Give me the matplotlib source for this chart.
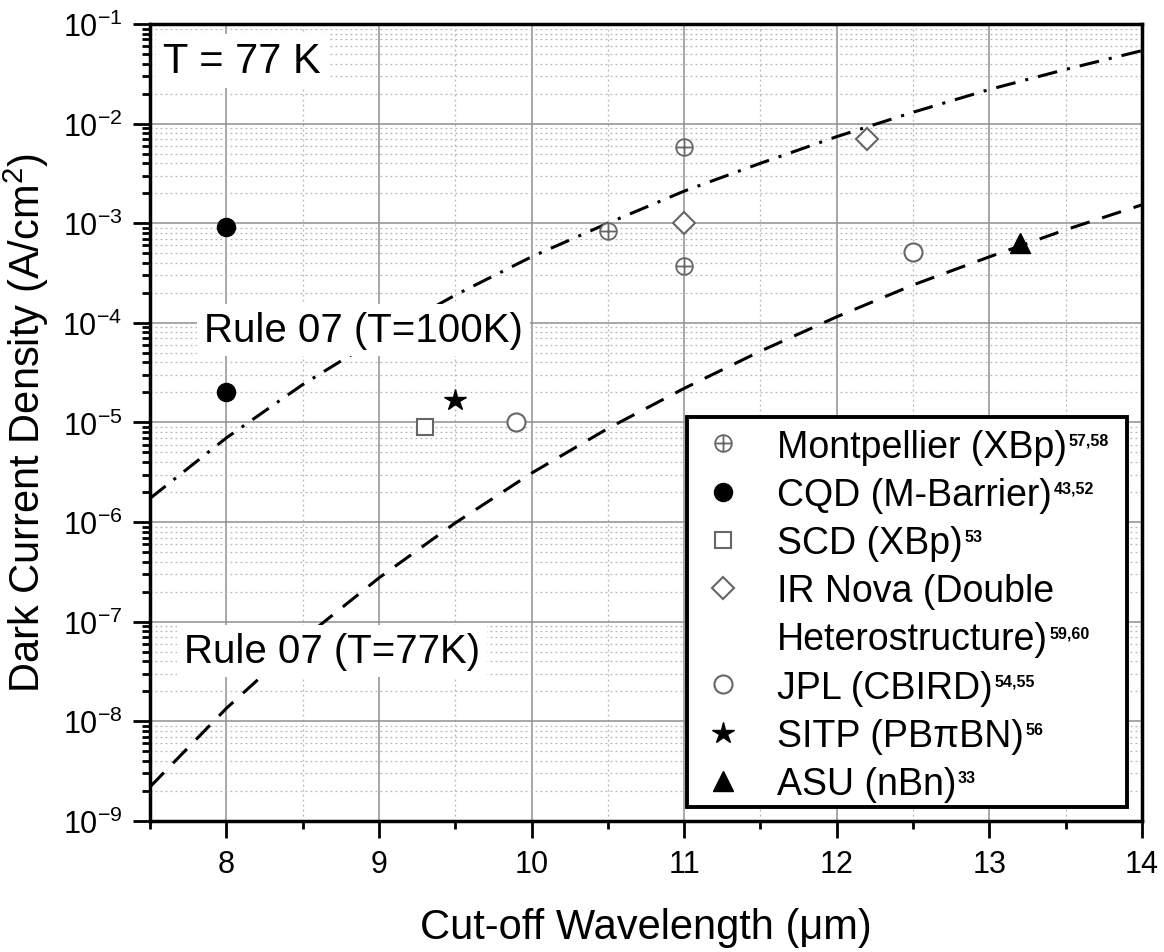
import matplotlib
matplotlib.use('Agg')
import matplotlib.pyplot as plt
from matplotlib.lines import Line2D
from matplotlib.patches import Rectangle
from matplotlib.path import Path
from matplotlib.ticker import LogLocator, NullFormatter, MultipleLocator

plt.rcParams['font.family'] = ['Liberation Sans', 'DejaVu Sans']
plt.rcParams['mathtext.fontset'] = 'custom'
plt.rcParams['mathtext.rm'] = 'Liberation Sans'
plt.rcParams['mathtext.it'] = 'Liberation Sans:italic'
plt.rcParams['mathtext.bf'] = 'Liberation Sans:bold'
plt.rcParams['axes.unicode_minus'] = False

# Rule 07 curves, every 0.5 um
wl_rule = [7.5, 8.0, 8.5, 9.0, 9.5, 10.0, 10.5, 11.0, 11.5, 12.0, 12.5, 13.0, 13.5, 14.0]
j_rule_100k = [1.73e-6, 7.0e-6, 2.4e-5, 7.1e-5, 1.9e-4, 4.6e-4, 1.0e-3, 2.1e-3,
               4.0e-3, 7.4e-3, 1.3e-2, 2.2e-2, 3.5e-2, 5.4e-2]
j_rule_77k = [2.2e-9, 1.35e-8, 6.7e-8, 2.75e-7, 9.8e-7, 3.1e-6, 8.7e-6, 2.2e-5,
              5.2e-5, 1.15e-4, 2.4e-4, 4.6e-4, 8.6e-4, 1.53e-3]

# measured devices
wl_montpellier = [10.5, 11.0, 11.0]
j_montpellier = [8.4e-4, 5.8e-3, 3.7e-4]
wl_cqd = [8.0, 8.0]
j_cqd = [9.2e-4, 2.0e-5]
wl_scd = [9.3]
j_scd = [9.0e-6]
wl_irnova = [11.0, 12.2]
j_irnova = [1.0e-3, 7.0e-3]
wl_jpl = [9.9, 12.5]
j_jpl = [1.0e-5, 5.1e-4]
wl_sitp = [9.5]
j_sitp = [1.7e-5]
wl_asu = [13.2]
j_asu = [6.3e-4]

labels = ['Montpellier (XBp)', 'CQD (M-Barrier)', 'SCD (XBp)', 'IR Nova (Double',
          'Heterostructure)', 'JPL (CBIRD)', 'SITP (PB\u03c0BN)', 'ASU (nBn)']
refs = ['57,58', '43,52', '53', '', '59,60', '54,55', '56', '33']

# circle with a cross for the Montpellier points
circle_plus = Path.make_compound_path(
    Path.unit_circle(),
    Path([[-1, 0], [1, 0]], [Path.MOVETO, Path.LINETO]),
    Path([[0, -1], [0, 1]], [Path.MOVETO, Path.LINETO]))

gray = '#666666'

fig = plt.figure(figsize=(11.64, 9.53), dpi=100)
ax = fig.add_axes([0.1289, 0.1375, 0.8522, 0.8363])

ax.plot(wl_rule, j_rule_100k, color='black', lw=2.2, ls=(0, (6.5, 3.3, 1, 3.3)), zorder=2)
ax.plot(wl_rule, j_rule_77k, color='black', lw=2.2, ls=(0, (6.5, 4.3)), zorder=2)

mk = dict(ls='none', zorder=4)
h1, = ax.plot(wl_montpellier, j_montpellier, marker=circle_plus, ms=12, mfc='white', mec=gray, mew=1.3, **mk)
h2, = ax.plot(wl_cqd, j_cqd, marker='o', ms=13, mfc='black', mec='black', **mk)
h3, = ax.plot(wl_scd, j_scd, marker='s', ms=12, mfc='white', mec=gray, mew=1.5, **mk)
h4, = ax.plot(wl_irnova, j_irnova, marker='D', ms=11, mfc='white', mec=gray, mew=1.5, **mk)
h5, = ax.plot(wl_jpl, j_jpl, marker='o', ms=13, mfc='white', mec=gray, mew=1.5, **mk)
h6, = ax.plot(wl_sitp, j_sitp, marker='*', ms=16, mfc='black', mec='black', **mk)
h7, = ax.plot(wl_asu, j_asu, marker='^', ms=14, mfc='black', mec='black', **mk)
blank = Line2D([], [], ls='none', marker=None)

ax.set_yscale('log')
ax.set_xlim(7.5, 14)
ax.set_ylim(1e-9, 1e-1)
ax.xaxis.set_major_locator(MultipleLocator(1))
ax.xaxis.set_minor_locator(MultipleLocator(0.5))
ax.yaxis.set_major_locator(LogLocator(base=10, numticks=20))
ax.yaxis.set_minor_locator(LogLocator(base=10, subs=range(2, 10), numticks=20))
ax.yaxis.set_minor_formatter(NullFormatter())

ax.set_axisbelow(True)
ax.grid(which='major', color='#8f8f8f', lw=1.1, ls='-')
ax.grid(which='minor', color='#b5b5b5', lw=0.9, ls=(0, (1.5, 2.5)))

ax.tick_params(which='major', direction='out', length=12, width=2, labelsize=22, pad=8)
ax.tick_params(which='minor', direction='out', length=6, width=2)
for s in ax.spines.values():
    s.set_linewidth(2.5)

ax.set_xlabel('Cut-off Wavelength (\u03bcm)', fontsize=30, labelpad=20)
ax.set_ylabel('Dark Current Density (A/cm$^2$)', fontsize=30, labelpad=8)

box = dict(facecolor='white', edgecolor='none', pad=5)
ax.text(0.013, 0.954, 'T = 77 K', transform=ax.transAxes, fontsize=30,
        ha='left', va='center', bbox=box, zorder=3)
ax.text(8.90, 8.5e-5, 'Rule 07 (T=100K)', fontsize=29, ha='center', va='center',
        bbox=box, zorder=3)
ax.text(8.69, 5.1e-8, 'Rule 07 (T=77K)', fontsize=29, ha='center', va='center',
        bbox=box, zorder=3)

# legend frame drawn separately so the reference numbers fit inside it
ax.add_patch(Rectangle((0.5413, 0.0176), 0.4435, 0.4893, transform=ax.transAxes,
                       facecolor='white', edgecolor='black', lw=2.8, zorder=4.5))
leg = ax.legend([h1, h2, h3, h4, blank, h5, h6, h7], labels, loc='upper left',
                bbox_to_anchor=(0.5585, 0.4923), bbox_transform=ax.transAxes,
                borderaxespad=0, borderpad=0, fontsize=27, frameon=False,
                handlelength=1.0, handletextpad=0.95, labelspacing=0.325,
                numpoints=1)
leg.set_zorder(5)

for txt, r in zip(leg.get_texts(), refs):
    if r:
        ax.annotate(r, xy=(1, 1), xycoords=txt, xytext=(1, -3),
                    textcoords='offset points', ha='left', va='top',
                    fontsize=11.5, fontweight='bold', zorder=10,
                    annotation_clip=False)

fig.savefig('out.png', dpi=100)
